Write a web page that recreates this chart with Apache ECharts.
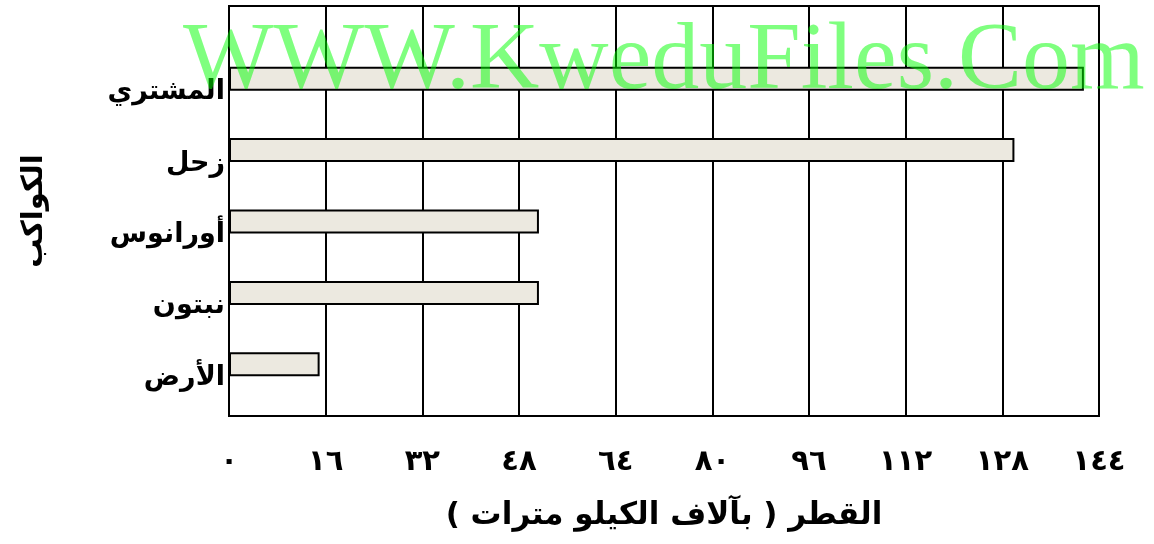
<!DOCTYPE html>
<html>
<head>
<meta charset="utf-8">
<script src="https://cdn.jsdelivr.net/npm/echarts@6/dist/echarts.min.js"></script>
<style>
html, body { margin: 0; padding: 0; background: #fff; }
#chart { width: 1154px; height: 544px; }
</style>
</head>
<body>
<div id="chart"></div>
<script>
// planets, top to bottom
var planets = ['المشتري', 'زحل', 'أورانوس', 'نبتون', 'الأرض'];
// diameter, thousands of km
var diameters = [141.5, 130, 51.3, 51.3, 15];
var xTicks = [0, 16, 32, 48, 64, 80, 96, 112, 128, 144];
var xTickLabels = ['٠', '١٦', '٣٢', '٤٨', '٦٤', '٨٠', '٩٦', '١١٢', '١٢٨', '١٤٤'];

var arFont = '"DejaVu Sans", "Liberation Sans", sans-serif';

var chart = echarts.init(document.getElementById('chart'));

chart.setOption({
    animation: false,
    backgroundColor: '#fff',
    graphic: [{
        type: 'text',
        left: 183,
        top: 15,
        z: 100,
        silent: true,
        style: {
            text: 'WWW.KweduFiles.Com',
            font: '96px "Liberation Serif", serif',
            fill: 'rgba(0,255,0,0.5)'
        }
    }],
    grid: [
        // frame + gridlines
        {left: 229, right: 55, top: 6, height: 410, show: true, borderColor: '#000', borderWidth: 2, backgroundColor: 'transparent'},
        // bars
        {left: 229, right: 55, top: 43, height: 357}
    ],
    xAxis: [{
        gridIndex: 0,
        type: 'value',
        min: 0,
        max: 144,
        interval: 16,
        axisLine: {show: false},
        axisTick: {show: false},
        splitLine: {lineStyle: {color: '#000', width: 2}},
        axisLabel: {
            margin: 32,
            color: '#000',
            fontWeight: 'bold',
            fontSize: 29,
            fontFamily: arFont,
            formatter: function (v) {
                var i = xTicks.indexOf(v);
                return i >= 0 ? xTickLabels[i] : '';
            }
        },
        name: 'القطر ( بآلاف الكيلو مترات )',
        nameLocation: 'middle',
        nameGap: 84,
        nameTextStyle: {color: '#000', fontWeight: 'bold', fontSize: 31, fontFamily: arFont}
    }, {
        gridIndex: 1,
        type: 'value',
        min: 0,
        max: 144,
        show: false
    }],
    yAxis: [{
        gridIndex: 0,
        type: 'value',
        axisLine: {show: false},
        axisTick: {show: false},
        axisLabel: {show: false},
        splitLine: {show: false},
        name: 'الكواكب',
        nameLocation: 'middle',
        nameRotate: 90,
        nameGap: 180,
        nameTextStyle: {color: '#000', fontWeight: 'bold', fontSize: 29, fontFamily: arFont}
    }, {
        gridIndex: 1,
        type: 'category',
        inverse: true,
        data: planets,
        axisLine: {show: false},
        axisTick: {show: false},
        splitLine: {show: false},
        axisLabel: {
            margin: 4,
            color: '#000',
            fontWeight: 'bold',
            fontSize: 27,
            fontFamily: arFont,
            verticalAlign: 'top',
            lineHeight: 27
        }
    }],
    series: [{
        type: 'bar',
        xAxisIndex: 1,
        yAxisIndex: 1,
        data: diameters,
        barWidth: 24,
        itemStyle: {color: '#ece9e0', borderColor: '#000', borderWidth: 2}
    }]
});
</script>
</body>
</html>
